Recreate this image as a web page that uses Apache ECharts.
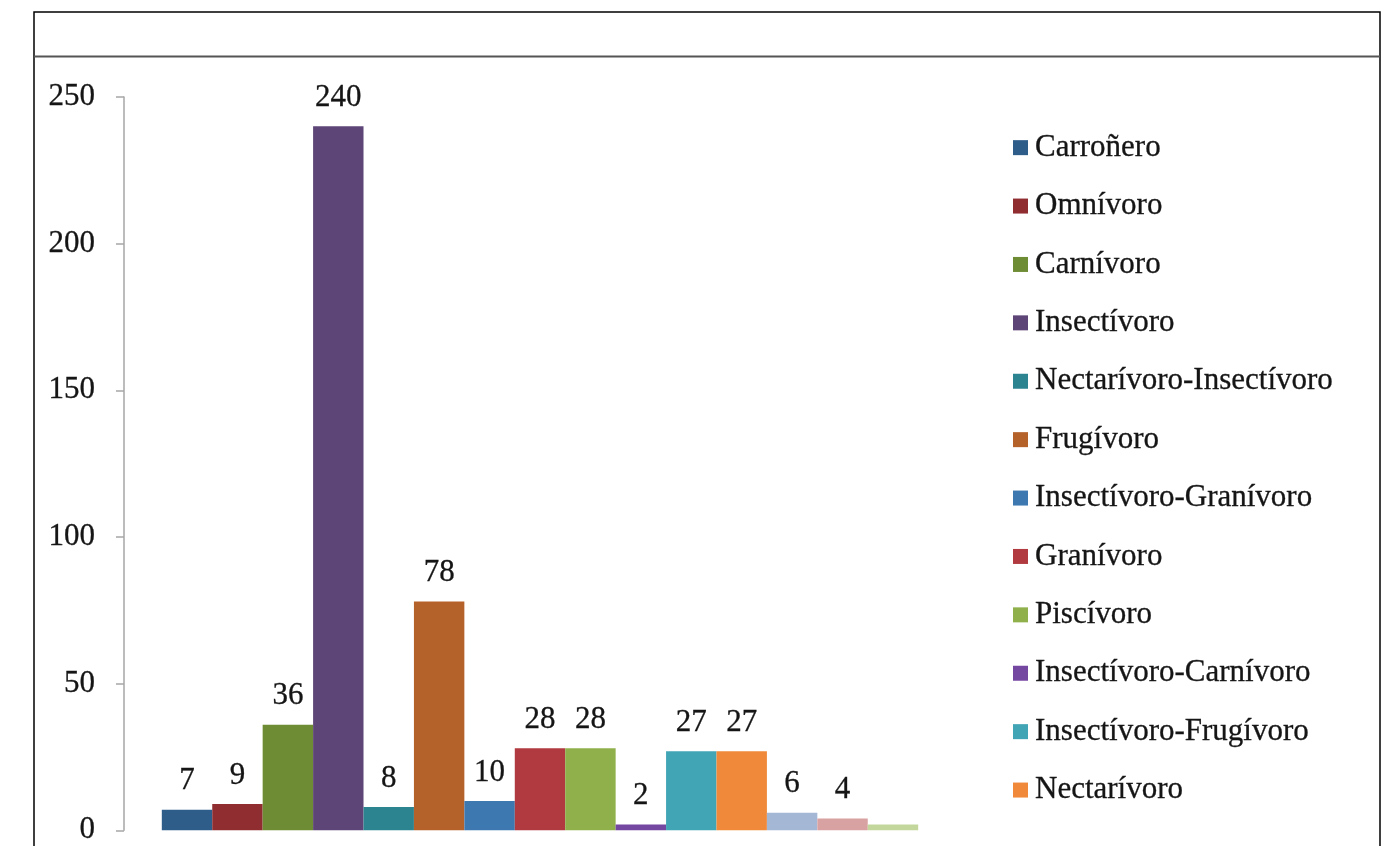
<!DOCTYPE html>
<html>
<head>
<meta charset="utf-8">
<script src="https://cdn.jsdelivr.net/npm/echarts@6/dist/echarts.min.js"></script>
<style>
html,body{margin:0;padding:0;background:#fff;}
#chart{width:1397px;height:846px;}
</style>
</head>
<body>
<div id="chart"></div>
<script>
// Data
const seriesNames = [
  "Carroñero","Omnívoro","Carnívoro","Insectívoro","Nectarívoro-Insectívoro",
  "Frugívoro","Insectívoro-Granívoro","Granívoro","Piscívoro","Insectívoro-Carnívoro",
  "Insectívoro-Frugívoro","Nectarívoro","Serie 13","Serie 14","Serie 15"
];
const seriesValues = [7, 9, 36, 240, 8, 78, 10, 28, 28, 2, 27, 27, 6, 4, 2];
const showLabel = [true,true,true,true,true,true,true,true,true,true,true,true,true,true,false];
const legendNames = seriesNames.slice(0, 12);
const yTicks = [0, 50, 100, 150, 200, 250];
const colors = [
  "#2f5d89","#8f2d31","#6e8c34","#5e4577","#2c8490",
  "#b5612a","#3d78b1","#b13a40","#8fb04b","#7447a0",
  "#41a5b5","#f08a3a","#a4b8d6","#d9a2a2","#c3d79c"
];

const FONT = "Liberation Serif";
const TXT = '#151515';
const chart = echarts.init(document.getElementById('chart'), null, {renderer: 'canvas'});

const series = seriesNames.map((name, i) => ({
  type: 'bar',
  name: name,
  data: [seriesValues[i]],
  barGap: '0%',
  barCategoryGap: '9.09%',
  itemStyle: {color: colors[i]},
  label: {
    show: showLabel[i],
    position: 'top',
    distance: 13,
    color: TXT,
    fontFamily: FONT,
    fontSize: 31,
    textBorderColor: TXT,
    textBorderWidth: 0.3
  }
}));

chart.setOption({
  animation: false,
  color: colors,
  grid: {left: 124, right: 441, top: 97, bottom: 13, containLabel: false},
  xAxis: {
    type: 'category',
    data: [''],
    axisLine: {show: false},
    axisTick: {show: false},
    axisLabel: {show: false}
  },
  yAxis: {
    type: 'value',
    min: yTicks[0],
    max: yTicks[yTicks.length - 1],
    interval: 50,
    axisLine: {show: true, lineStyle: {color: '#a6a6a6', width: 1.5}},
    axisTick: {show: true, length: 8, lineStyle: {color: '#a6a6a6', width: 1.5}},
    splitLine: {show: false},
    axisLabel: {
      margin: 29,
      color: TXT,
      fontFamily: FONT,
      fontSize: 31,
      textBorderColor: TXT,
      textBorderWidth: 0.3
    }
  },
  legend: {
    data: legendNames,
    orient: 'vertical',
    left: 1008,
    top: 127,
    icon: 'rect',
    itemWidth: 15,
    itemHeight: 15,
    itemGap: 27.1,
    textStyle: {
      fontFamily: FONT,
      fontSize: 31,
      lineHeight: 30,
      color: TXT,
      textBorderColor: TXT,
      textBorderWidth: 0.3,
      padding: [0, 0, 0, 2]
    }
  },
  graphic: [
    {
      type: 'rect',
      shape: {x: 34, y: 12, width: 1346, height: 900},
      style: {fill: null, stroke: '#000', lineWidth: 1.5},
      silent: true
    },
    {
      type: 'line',
      shape: {x1: 34, y1: 56.5, x2: 1380, y2: 56.5},
      style: {stroke: '#555', lineWidth: 2},
      silent: true
    }
  ],
  series: series
});
</script>
</body>
</html>
